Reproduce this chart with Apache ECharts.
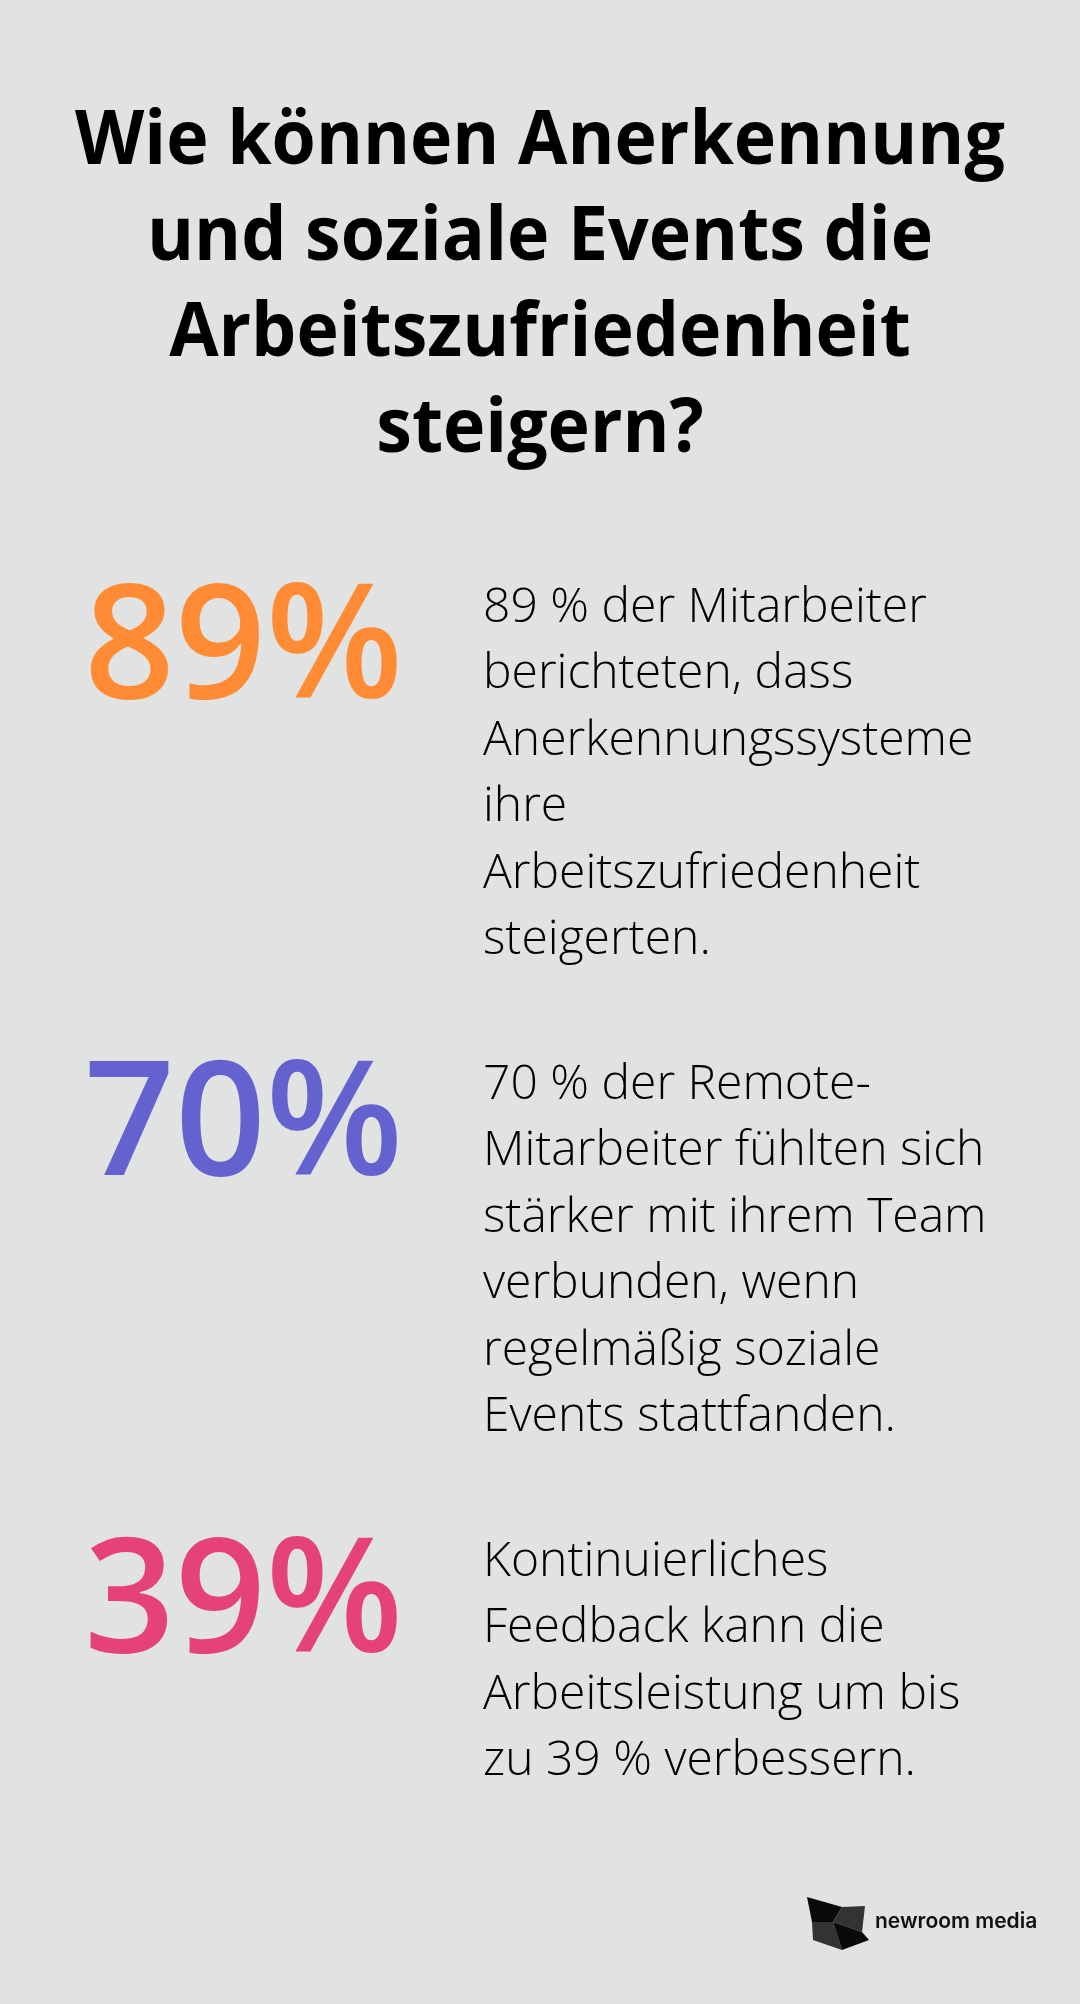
<!DOCTYPE html>
<html>
<head>
<meta charset="utf-8">
<script src="https://cdn.jsdelivr.net/npm/echarts@6/dist/echarts.min.js"></script>
<style>
html,body{margin:0;padding:0;background:#E1E3E2;}
#c{width:1080px;height:2004px;}
</style>
</head>
<body>
<div id="c"></div>
<script>
const titleText = "Wie können Anerkennung\nund soziale Events die\nArbeitszufriedenheit\nsteigern?";
const statValues = [89, 70, 39];
const statColors = ["#FF8C35", "#6362CF", "#E5417A"];
const statTexts = [
  "89 % der Mitarbeiter\nberichteten, dass\nAnerkennungssysteme\nihre\nArbeitszufriedenheit\nsteigerten.",
  "70 % der Remote-\nMitarbeiter fühlten sich\nstärker mit ihrem Team\nverbunden, wenn\nregelmäßig soziale\nEvents stattfanden.",
  "Kontinuierliches\nFeedback kann die\nArbeitsleistung um bis\nzu 39 % verbessern."
];
const brand = "newroom media";

const cats = statValues.map((v, i) => "s" + i);
const chart = echarts.init(document.getElementById('c'), null, {renderer: 'canvas'});
const font = "'Open Sans', 'Noto Sans', sans-serif";

const yAxisBase = {
  type: 'category', data: cats, inverse: true, boundaryGap: false, show: false
};
const xAxisBase = {type: 'value', min: 0, max: 1, show: false};

chart.setOption({
  backgroundColor: '#E1E3E2',
  animation: false,
  grid: [
    {left: 84, right: 600, top: 573, height: 954},
    {left: 483, right: 40, top: 575, height: 954}
  ],
  xAxis: [Object.assign({gridIndex: 0}, xAxisBase), Object.assign({gridIndex: 1}, xAxisBase)],
  yAxis: [Object.assign({gridIndex: 0}, yAxisBase), Object.assign({gridIndex: 1}, yAxisBase)],
  series: [
    {
      type: 'scatter', xAxisIndex: 0, yAxisIndex: 0, symbolSize: 0, silent: true,
      itemStyle: {opacity: 1},
      data: statValues.map((v, i) => ({
        value: [0, cats[i]],
        label: {color: statColors[i]}
      })),
      label: {
        show: true, position: 'inside', align: 'left', verticalAlign: 'top', opacity: 1,
        formatter: p => statValues[p.dataIndex] + '%',
        fontFamily: font, fontSize: 159, fontWeight: 600, lineHeight: 159
      }
    },
    {
      type: 'scatter', xAxisIndex: 1, yAxisIndex: 1, symbolSize: 0, silent: true,
      itemStyle: {opacity: 1},
      data: statTexts.map((t, i) => ({value: [0, cats[i]]})),
      label: {
        show: true, position: 'inside', align: 'left', verticalAlign: 'top', opacity: 1,
        formatter: p => statTexts[p.dataIndex],
        fontFamily: font, fontSize: 48, fontWeight: 300, lineHeight: 66.5, color: '#000'
      }
    }
  ],
  graphic: [
    {type: 'text', x: 540, y: 95, scaleX: 0.955, originX: 0,
     style: {text: titleText, align: 'center', verticalAlign: 'top',
             font: "bold 75px 'Open Sans', sans-serif", lineHeight: 96, fill: '#000'}},
    {type: 'polygon', shape: {points: [[807,1897],[842,1907],[833,1922],[812,1922]]}, style: {fill: '#0a0a0a'}},
    {type: 'polygon', shape: {points: [[842,1907],[865,1906],[862,1932],[833,1922]]}, style: {fill: '#333333'}},
    {type: 'polygon', shape: {points: [[812,1922],[833,1922],[842,1950],[813,1940]]}, style: {fill: '#333333'}},
    {type: 'polygon', shape: {points: [[833,1922],[862,1932],[869,1940],[842,1950]]}, style: {fill: '#0a0a0a'}},
    {type: 'text', left: 875, top: 1911, style: {text: brand, font: "600 21px 'Inter', sans-serif", fill: '#111'}}
  ]
});
</script>
</body>
</html>
